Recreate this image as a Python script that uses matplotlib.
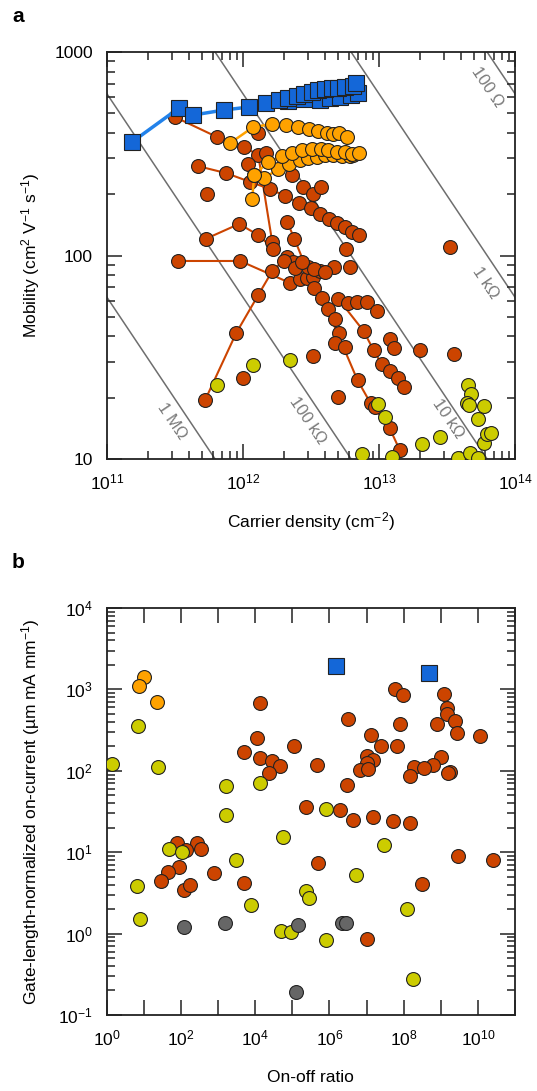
import numpy as np
import matplotlib
matplotlib.use("Agg")
import matplotlib.pyplot as plt
from matplotlib.ticker import LogLocator, NullFormatter, FixedLocator, FixedFormatter

plt.rcParams['font.family'] = ['Liberation Sans', 'DejaVu Sans']
plt.rcParams['mathtext.fontset'] = 'custom'
plt.rcParams['mathtext.rm'] = 'Liberation Sans'
plt.rcParams['mathtext.it'] = 'Liberation Sans:italic'
plt.rcParams['mathtext.bf'] = 'Liberation Sans:bold'
plt.rcParams['mathtext.default'] = 'regular'

#==========================================================
# panel a data: carrier density (1e12 cm^-2), mobility (cm2/Vs)
#==========================================================
blue_n1 = [0.153, 0.339, 0.430, 0.728, 1.113, 1.485, 1.851, 2.157, 2.51, 2.83, 3.24,
           3.59, 4.04, 4.55, 5.04, 5.675, 6.50, 6.73]
blue_mu1 = [361, 531, 490, 519, 537, 562, 581, 594, 608, 622, 636,
            651, 658, 666, 666, 673, 681, 704]
blue_n2 = [2.16, 2.8, 3.71, 4.40, 5.21, 6.18, 6.96]
blue_mu2 = [575, 585, 581, 594, 601, 615, 629]

orange_n1 = [0.806, 1.191, 1.644, 2.085, 2.556, 3.080, 3.589, 4.181, 4.629, 5.126, 5.871]
orange_mu1 = [357, 428, 443, 438, 428, 418, 409, 400, 396, 400, 382]
orange_n2 = [1.171, 1.211, 1.435, 1.820, 2.194, 2.644, 3.028, 3.528, 4.042, 4.629, 5.394, 6.177, 6.500]
orange_mu2 = [190, 249, 240, 266, 282, 295, 301, 305, 312, 312, 308, 308, 312]
orange_n3 = [1.211, 1.536, 1.948, 2.309, 2.735, 3.241, 3.776, 4.253, 4.955, 5.675, 6.390, 7.076]
orange_mu3 = [249, 288, 308, 319, 330, 334, 334, 330, 323, 323, 315, 319]

# red-brown series joined by lines
red_lines_n = [
    [0.317, 0.647, 1.022, 1.296, 1.644],
    [0.468, 0.753, 1.132, 1.589, 2.050, 2.600, 3.186, 3.712, 4.325, 4.955, 5.675, 6.390, 7.076],
    [0.537, 0.939, 1.296, 1.672],
    [0.334, 0.955, 2.232, 2.644, 2.977, 3.296, 4.709],
    [0.528, 0.893, 1.296, 1.644, 2.121, 2.348, 3.028, 3.712],
    [2.121, 2.388, 3.353, 3.841, 6.957, 8.675, 11.97, 14.19],
    [5.040, 7.703, 9.125, 10.45, 11.97, 13.71, 15.18],
]
red_lines_mu = [
    [479, 382, 341, 312, 116],
    [275, 254, 230, 212, 196, 181, 171, 160, 151, 144, 138, 130, 126],
    [121, 143, 126, 108],
    [94.0, 94.0, 73.2, 76.6, 77.5, 78.4, 87.8],
    [19.5, 41.6, 63.9, 83.9, 98.3, 92.9, 87.8, 83.9],
    [146, 121, 69.2, 61.8, 24.4, 18.8, 14.2, 11.1],
    [61.1, 42.6, 34.3, 29.3, 27.1, 25.0, 22.6],
]
# red-brown single points
red_n = [1.296, 1.485, 1.094, 0.546, 2.309, 2.782, 3.296, 3.776, 5.772, 6.177, 2.016,
         2.429, 2.735, 3.353, 4.042, 4.253, 4.789, 5.126, 4.789, 5.675, 5.971, 6.840,
         8.104, 9.601, 11.97, 12.81, 19.92, 35.45, 33.14, 9.281, 3.296, 5.040, 1.005]
red_mu = [400, 319, 282, 200, 249, 217, 200, 217, 108, 87.8, 94.0,
          86.8, 92.9, 85.8, 83.0, 54.6, 48.8, 41.6, 37.2, 35.5, 58.4, 59.1,
          59.1, 53.4, 38.9, 35.1, 34.3, 32.8, 110, 18.0, 32.1, 20.2, 25.0]

yellow_n = [0.647, 1.191, 2.232, 9.765, 11.00, 7.446, 12.38, 20.61, 27.97, 37.95, 46.52,
            53.30, 44.97, 47.32, 44.21, 45.74, 58.98, 53.30, 58.98, 62.07, 66.44]
yellow_mu = [23.1, 29.0, 30.6, 18.6, 16.1, 10.6, 10.2, 11.8, 12.8, 10.1, 10.7,
             10.1, 23.1, 20.9, 18.8, 18.4, 18.2, 15.7, 12.0, 13.3, 13.4]

sheet_res = [1e6, 1e5, 1e4, 1e3, 1e2]
sheet_res_labels = ["1 M\u03a9", "100 k\u03a9", "10 k\u03a9", "1 k\u03a9", "100 \u03a9"]
label_pos_n = [3.01e11, 2.98e12, 3.2e13, 6.1e13, 6.3e13]
label_pos_mu = [15.4, 15.4, 15.7, 73.2, 673]

#==========================================================
# panel b data: on-off ratio, on-current
#==========================================================
b_blue_x = [1.5e6, 4.7e8]
b_blue_y = [1950, 1580]
b_orange_x = [10.2, 7.55, 22.8]
b_orange_y = [1430, 1100, 695]
b_yellow_x = [6.8, 1.38, 23.7, 1660, 1.32e4, 1660, 5.6e4, 8.1e5, 2.95e7, 46.8, 107,
              3090, 5.1e6, 6.5, 2.29e5, 2.82e5, 7590, 1.23e8, 8.0, 4.8e4, 9.1e4,
              8.3e5, 1.82e8]
b_yellow_y = [358, 120, 110, 65, 70, 28.6, 15.2, 34, 12.3, 10.8, 10.1,
              8.0, 5.3, 3.85, 3.34, 2.71, 2.24, 2.0, 1.51, 1.08, 1.04,
              0.83, 0.277]
b_red_x = [1.38e4, 1.12e4, 5000, 1.32e4, 2.8e4, 4.6e4, 1.1e5, 4.5e5, 3.2e6, 1.3e7,
           2.45e7, 1.0e7, 1.5e7, 1.0e7, 6.6e6, 5.9e7, 9.3e7, 7.8e7, 6.6e7, 1.23e9,
           1.48e9, 1.51e9, 8.1e8, 2.45e9, 2.75e9, 1.17e10, 1.0e9, 6.2e8, 1.9e8, 3.5e8,
           1.74e9, 2.3e4, 1.07e7, 1.5e8, 1.6e9, 2.9e6,
           77.6, 269, 138, 355, 87, 43.6, 28.8, 120, 170, 776, 4900, 2.29e5, 1.9e6,
           4.4e6, 1.48e7, 5.2e7, 1.51e8, 5.0e5, 3.0e9, 2.57e10, 3.1e8, 1.05e7]
b_red_y = [680, 250, 172, 142, 132, 115, 202, 118, 432, 275,
           202, 151, 135, 123, 102, 1000, 850, 380, 202, 890,
           590, 500, 376, 412, 295, 265, 149, 117, 112, 107,
           96, 95, 104, 86, 93, 67,
           13.1, 12.9, 10.6, 10.8, 6.5, 5.76, 4.43, 3.43, 3.95, 5.5, 4.15, 36.4, 32.6,
           24.9, 27.3, 24.4, 22.6, 7.3, 9.0, 8.0, 4.04, 0.86]
b_grey_x = [120, 1550, 1.45e5, 2.14e6, 2.8e6, 1.29e5]
b_grey_y = [1.19, 1.36, 1.28, 1.36, 1.36, 0.193]

c_red = "#CC4400"
c_orange = "#FFA200"
c_yellow = "#CCCC00"
c_grey = "#666666"
c_blue = "#1467D8"
c_blue_line = "#2282EA"
edge = "#222222"
ms_c = 10
ms_s = 11

fig = plt.figure(figsize=(5.37, 10.91), dpi=100)
ax1 = fig.add_axes([0.199, 0.5793, 0.760, 0.373])
ax2 = fig.add_axes([0.199, 0.0697, 0.760, 0.373])

#==========================================================
# panel a
#==========================================================
e = 1.602e-19
n_line = np.logspace(11, 14.2, 100)
for R in sheet_res:
    ax1.plot(n_line, 1.0 / (n_line * e * R), "-", color="#6e6e6e", lw=1.1, zorder=1)
for txt, xn, ym in zip(sheet_res_labels, label_pos_n, label_pos_mu):
    ax1.text(xn, ym, txt, rotation=-56, ha="center", va="center", fontsize=12,
             color="#7a7a7a", zorder=1)

for nn, mm in zip(red_lines_n, red_lines_mu):
    ax1.plot(np.array(nn) * 1e12, mm, "-", color=c_red, lw=1.5, zorder=2)
    ax1.plot(np.array(nn) * 1e12, mm, "o", ls="none", ms=ms_c, mfc=c_red, mec=edge,
             mew=0.8, zorder=3)
ax1.plot(np.array(red_n) * 1e12, red_mu, "o", ls="none", ms=ms_c, mfc=c_red, mec=edge,
         mew=0.8, zorder=3)
ax1.plot(np.array(yellow_n) * 1e12, yellow_mu, "o", ls="none", ms=ms_c, mfc=c_yellow,
         mec=edge, mew=0.8, zorder=4)
for nn, mm in [(orange_n1, orange_mu1), (orange_n2, orange_mu2), (orange_n3, orange_mu3)]:
    ax1.plot(np.array(nn) * 1e12, mm, "-", color=c_orange, lw=1.8, zorder=4)
    ax1.plot(np.array(nn) * 1e12, mm, "o", ls="none", ms=ms_c, mfc=c_orange, mec=edge,
             mew=0.8, zorder=5)
for nn, mm in [(blue_n2, blue_mu2), (blue_n1, blue_mu1)]:
    ax1.plot(np.array(nn) * 1e12, mm, "-", color=c_blue_line, lw=2.5, zorder=6)
    ax1.plot(np.array(nn) * 1e12, mm, "s", ls="none", ms=ms_s, mfc=c_blue, mec=edge,
             mew=0.8, zorder=7)

ax1.set_xscale("log")
ax1.set_yscale("log")
ax1.set_xlim(1e11, 1e14)
ax1.set_ylim(10, 1000)
ax1.yaxis.set_major_locator(FixedLocator([10, 100, 1000]))
ax1.yaxis.set_major_formatter(FixedFormatter(["10", "100", "1000"]))
ax1.xaxis.set_minor_locator(LogLocator(base=10, subs=np.arange(2, 10), numticks=20))
ax1.yaxis.set_minor_locator(LogLocator(base=10, subs=np.arange(2, 10), numticks=20))
ax1.xaxis.set_minor_formatter(NullFormatter())
ax1.yaxis.set_minor_formatter(NullFormatter())
ax1.set_xlabel("Carrier density (cm$^{-2}$)", fontsize=12.5)
ax1.set_ylabel("Mobility (cm$^{2}$ V$^{-1}$ s$^{-1}$)", fontsize=12.5)
ax1.xaxis.set_label_coords(0.5, -0.125)
ax1.yaxis.set_label_coords(-0.159, 0.5)
ax1.xaxis.label.set_va("top")

#==========================================================
# panel b
#==========================================================
ax2.plot(b_red_x, b_red_y, "o", ls="none", ms=ms_c, mfc=c_red, mec=edge, mew=0.8, zorder=3)
ax2.plot(b_yellow_x, b_yellow_y, "o", ls="none", ms=ms_c, mfc=c_yellow, mec=edge, mew=0.8, zorder=3)
ax2.plot(b_grey_x, b_grey_y, "o", ls="none", ms=ms_c, mfc=c_grey, mec=edge, mew=0.8, zorder=3)
ax2.plot(b_orange_x, b_orange_y, "o", ls="none", ms=ms_c, mfc=c_orange, mec=edge, mew=0.8, zorder=3)
ax2.plot(b_blue_x, b_blue_y, "s", ls="none", ms=ms_s, mfc=c_blue, mec=edge, mew=0.8, zorder=4)
ax2.set_xscale("log")
ax2.set_yscale("log")
ax2.set_xlim(1, 1e11)
ax2.set_ylim(0.1, 1e4)
xt = 10.0 ** np.arange(0, 12)
ax2.xaxis.set_major_locator(FixedLocator(xt))
ax2.xaxis.set_major_formatter(FixedFormatter(
    ["$10^{%d}$" % k if k % 2 == 0 else "" for k in range(12)]))
ax2.xaxis.set_minor_locator(FixedLocator([]))
ax2.yaxis.set_minor_locator(LogLocator(base=10, subs=np.arange(2, 10), numticks=20))
ax2.yaxis.set_minor_formatter(NullFormatter())
ax2.set_xlabel("On-off ratio", fontsize=12.5)
ax2.set_ylabel("Gate-length-normalized on-current (\u00b5m mA mm$^{-1}$)", fontsize=12.5)
ax2.xaxis.set_label_coords(0.5, -0.135)
ax2.yaxis.set_label_coords(-0.159, 0.5)
ax2.xaxis.label.set_va("top")

for ax in (ax1, ax2):
    ax.tick_params(which="both", direction="in", top=True, right=True, labelsize=12.5,
                   width=1.1, color="#222222")
    ax.tick_params(which="major", length=11, pad=10)
    ax.tick_params(which="minor", length=6)
    for sp in ax.spines.values():
        sp.set_linewidth(1.3)
        sp.set_color("#222222")

fig.text(12 / 537, 1 - 17 / 1091, "a", fontsize=15, fontweight="bold", va="center")
fig.text(12 / 537, 1 - 563 / 1091, "b", fontsize=15, fontweight="bold", va="center")

fig.savefig("out.png", dpi=100)
